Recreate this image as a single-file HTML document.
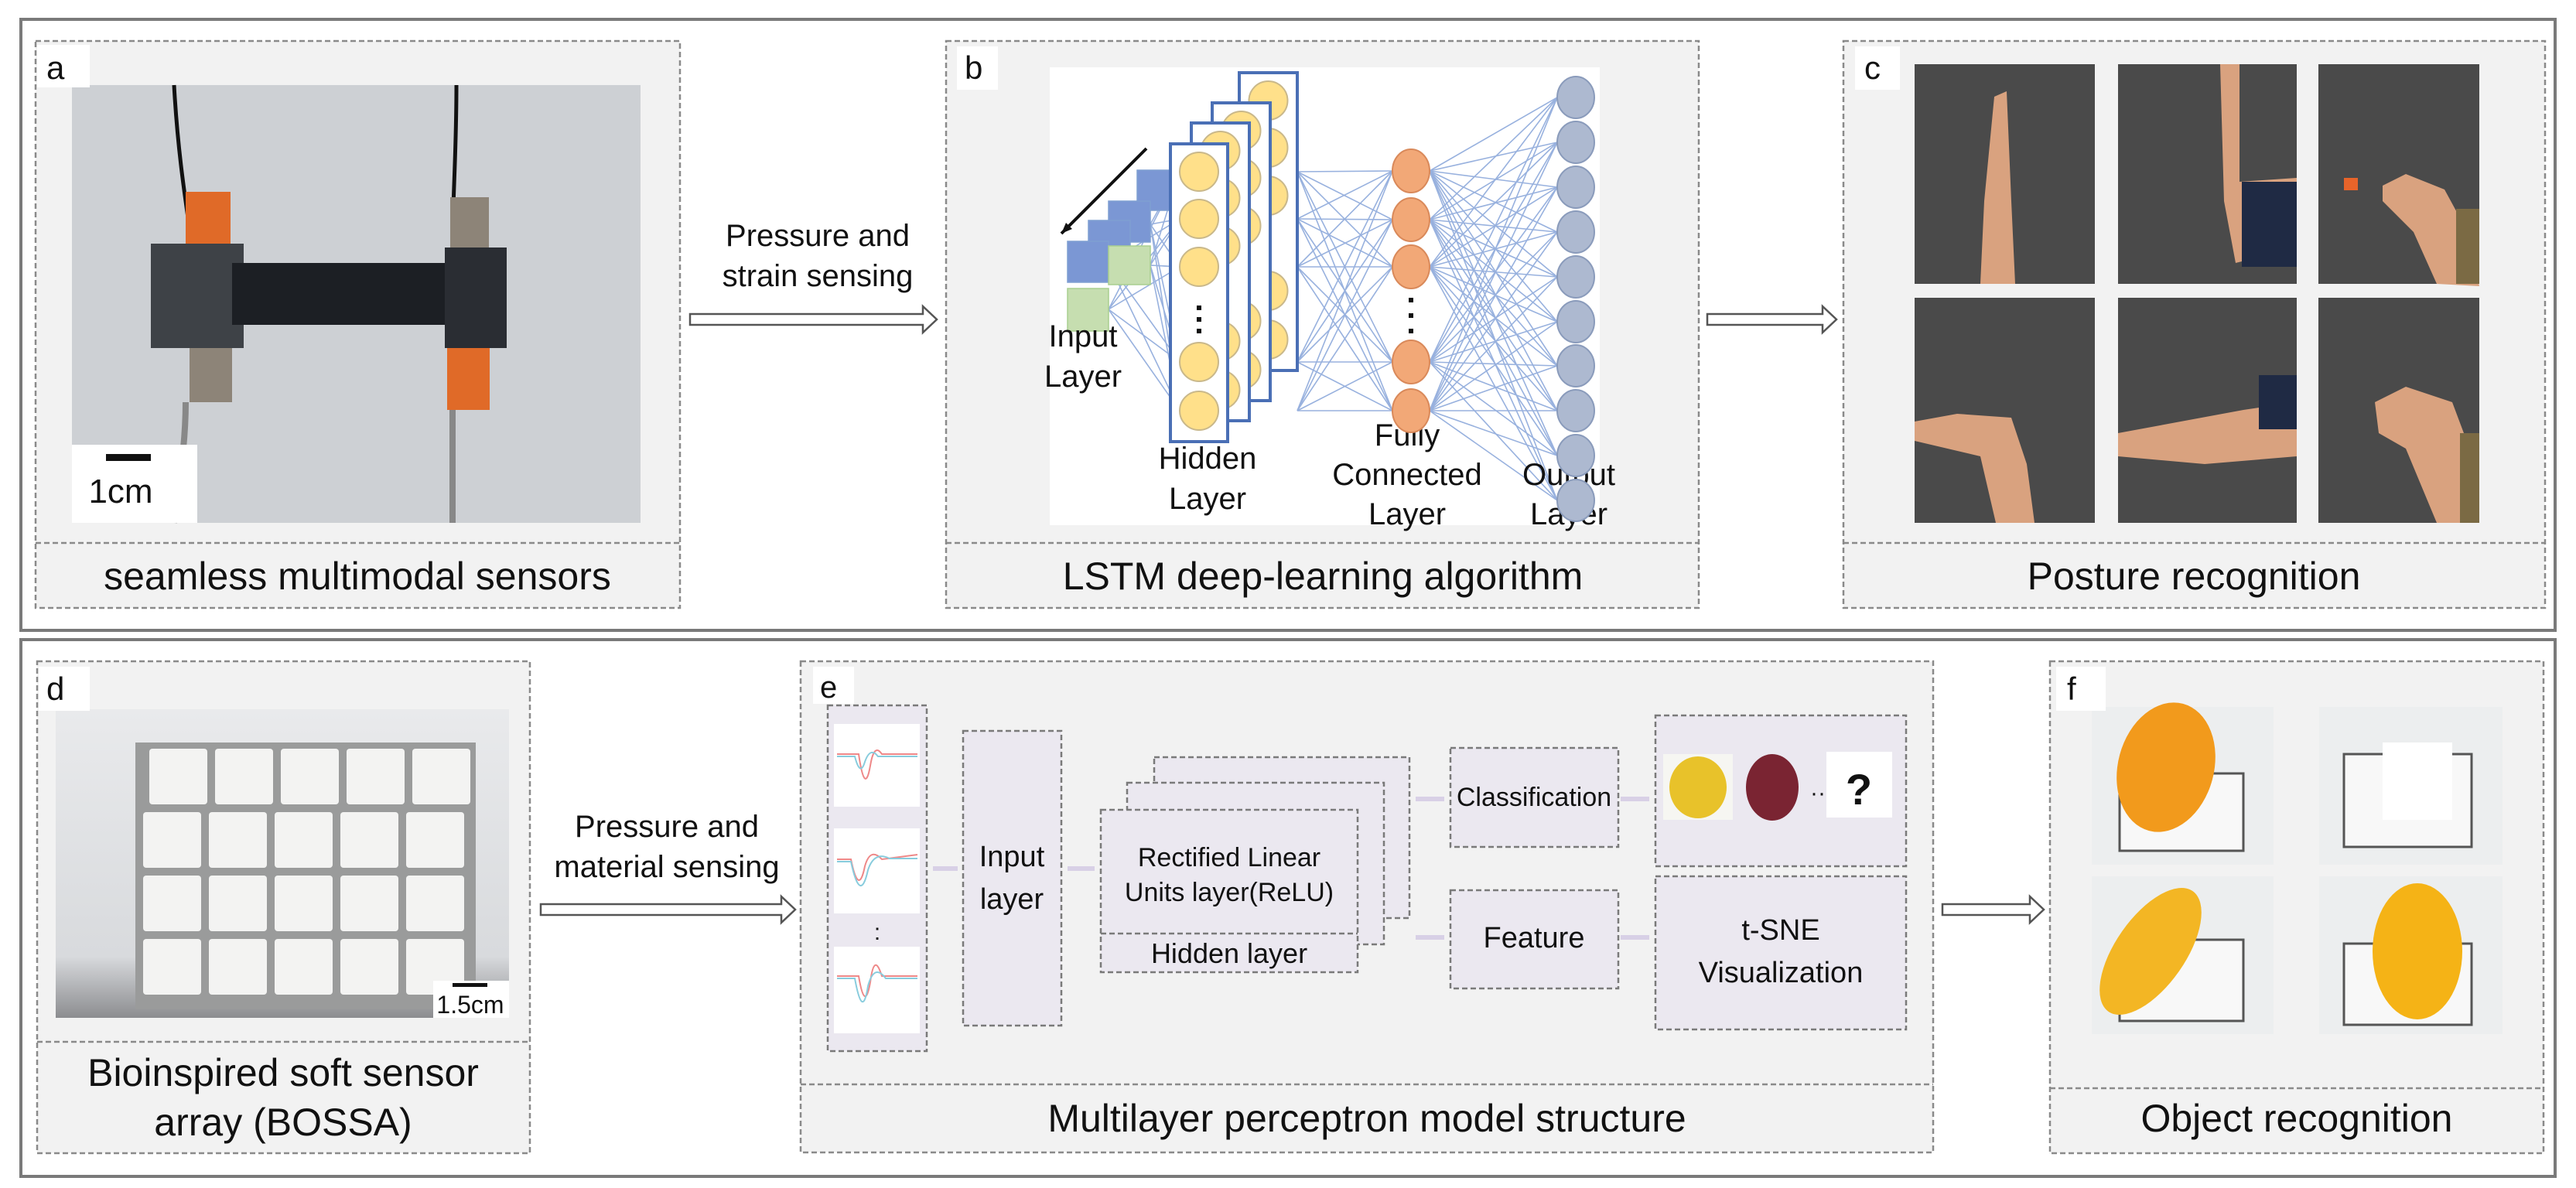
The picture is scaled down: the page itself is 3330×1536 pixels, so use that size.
<!DOCTYPE html>
<html><head><meta charset="utf-8"><style>
html,body{margin:0;padding:0;background:#fff}
svg{display:block}
text{font-family:"Liberation Sans",Arial,sans-serif;fill:#111}
</style></head><body>
<svg id="s" width="3330" height="1536" viewBox="0 0 3330 1536" xmlns="http://www.w3.org/2000/svg">
<rect width="3330" height="1536" fill="#fff"/>
<rect x="27" y="25" width="3276" height="790" fill="#fff" stroke="#7a7a7a" stroke-width="4"/>
<rect x="27" y="827" width="3276" height="694" fill="#fff" stroke="#7a7a7a" stroke-width="4"/>

<g fill="#f2f2f2" stroke="#8a8a8a" stroke-width="2.5" stroke-dasharray="7 4">
<rect x="46" y="53" width="833" height="733"/>
<rect x="1223" y="53" width="973" height="733"/>
<rect x="2383" y="53" width="907" height="733"/>
<rect x="48" y="855" width="637" height="636"/>
<rect x="1035" y="855" width="1464" height="635"/>
<rect x="2650" y="855" width="638" height="636"/>
</g>
<g stroke="#8a8a8a" stroke-width="2.5" stroke-dasharray="7 4">
<line x1="46" y1="702" x2="879" y2="702"/>
<line x1="1223" y1="702" x2="2196" y2="702"/>
<line x1="2383" y1="702" x2="3290" y2="702"/>
<line x1="48" y1="1347" x2="685" y2="1347"/>
<line x1="1035" y1="1402" x2="2499" y2="1402"/>
<line x1="2650" y1="1407" x2="3288" y2="1407"/>
</g>

<g font-size="50" text-anchor="middle">
<text x="462" y="762">seamless multimodal sensors</text>
<text x="1710" y="762">LSTM deep-learning algorithm</text>
<text x="2836" y="762">Posture recognition</text>
<text x="366" y="1404">Bioinspired soft sensor</text>
<text x="366" y="1468">array (BOSSA)</text>
<text x="1767" y="1463">Multilayer perceptron model structure</text>
<text x="2969" y="1463">Object recognition</text>
</g>

<g fill="#fff" stroke="#555" stroke-width="2.5">
<polygon points="892,406 1193,406 1193,396 1211,413 1193,430 1193,420 892,420"/>
<polygon points="2207,406 2356,406 2356,396 2374,413 2356,430 2356,420 2207,420"/>
<polygon points="699,1169 1010,1169 1010,1159 1028,1176 1010,1193 1010,1183 699,1183"/>
<polygon points="2511,1169 2624,1169 2624,1159 2642,1176 2624,1193 2624,1183 2511,1183"/>
</g>
<g font-size="40" text-anchor="middle">
<text x="1057" y="318">Pressure and</text>
<text x="1057" y="370">strain sensing</text>
<text x="862" y="1082">Pressure and</text>
<text x="862" y="1134">material sensing</text>
</g>

<!-- panel a photo -->
<rect x="93" y="110" width="735" height="566" fill="#cdd0d4"/>
<path d="M225 110 C230 200 240 260 250 330" stroke="#111" stroke-width="5" fill="none"/>
<path d="M590 110 C590 200 585 260 585 320" stroke="#111" stroke-width="5" fill="none"/>
<path d="M240 520 C240 580 230 630 225 676" stroke="#888" stroke-width="8" fill="none"/>
<path d="M585 520 C585 580 585 630 585 676" stroke="#888" stroke-width="8" fill="none"/>
<rect x="240" y="248" width="58" height="75" fill="#e06a28"/>
<rect x="245" y="440" width="55" height="80" fill="#8d8478"/>
<rect x="582" y="255" width="50" height="65" fill="#8d8478"/>
<rect x="578" y="440" width="55" height="90" fill="#e06a28"/>
<rect x="195" y="315" width="120" height="135" fill="#3e4247"/>
<rect x="300" y="340" width="300" height="80" fill="#1c1f24"/>
<rect x="575" y="320" width="80" height="130" fill="#2a2d33"/>
<rect x="93" y="575" width="162" height="101" fill="#fff"/>
<rect x="137" y="587" width="58" height="9" fill="#111"/>
<text x="156" y="650" font-size="44" text-anchor="middle">1cm</text>
<rect x="48" y="58" width="68" height="55" fill="#fff"/>
<text x="60" y="102" font-size="42">a</text>

<!-- panel b network -->
<rect x="1357" y="87" width="711" height="592" fill="#fff"/>
<g id="net" stroke="#4472c4" stroke-width="1.6" opacity="0.55"></g>
<line x1="1482" y1="192" x2="1372" y2="302" stroke="#111" stroke-width="4"/>
<polygon points="1372,302 1378,288 1386,296" fill="#111"/>
<g stroke="#7f9fd2" stroke-width="1.5">
<rect x="1470" y="220" width="43" height="52" fill="#7b97d4"/>
<rect x="1433" y="260" width="54" height="53" fill="#7b97d4"/>
<rect x="1407" y="285" width="54" height="53" fill="#7b97d4"/>
<rect x="1380" y="312" width="53" height="53" fill="#7b97d4"/>
<rect x="1380" y="373" width="53" height="55" fill="#c6deb0" stroke="#a9cf8f"/>
<rect x="1433" y="318" width="54" height="50" fill="#c6deb0" stroke="#a9cf8f"/>
</g>
<g id="cols"></g>
<g font-size="40" text-anchor="middle">
<text x="1400" y="448">Input</text>
<text x="1400" y="500">Layer</text>
<text x="1561" y="606">Hidden</text>
<text x="1561" y="658">Layer</text>
<text x="1819" y="576">Fully</text>
<text x="1819" y="627">Connected</text>
<text x="1819" y="678">Layer</text>
<text x="2028" y="627">Output</text>
<text x="2028" y="678">Layer</text>
</g>
<rect x="1237" y="60" width="53" height="56" fill="#fff"/>
<text x="1247" y="102" font-size="42">b</text>

<!-- panel c photos -->
<g fill="#4a4a4a">
<rect x="2475" y="83" width="233" height="284"/>
<rect x="2738" y="83" width="231" height="284"/>
<rect x="2997" y="83" width="208" height="284"/>
<rect x="2475" y="385" width="233" height="291"/>
<rect x="2738" y="385" width="231" height="291"/>
<rect x="2997" y="385" width="208" height="291"/>
</g>
<g fill="#d9a27f">
<path d="M2578 125 L2594 118 L2600 260 L2605 367 L2560 367 L2565 260 Z"/>
<path d="M2870 83 L2895 83 L2895 235 L2969 230 L2969 320 L2890 340 L2875 260 Z"/>
<path d="M3080 240 L3110 225 L3160 245 L3190 300 L3205 370 L3150 367 L3120 300 L3080 260 Z"/>
<path d="M2475 545 L2530 535 L2600 540 L2620 600 L2630 676 L2580 676 L2560 590 L2475 570 Z"/>
<path d="M2738 560 L2900 530 L2969 520 L2969 590 L2850 600 L2738 590 Z"/>
<path d="M3070 520 L3110 500 L3170 520 L3200 600 L3205 676 L3150 676 L3110 580 L3075 560 Z"/>
</g>
<rect x="2898" y="235" width="71" height="110" fill="#1f2a44"/>
<rect x="2920" y="485" width="49" height="70" fill="#1f2a44"/>
<rect x="3175" y="270" width="30" height="97" fill="#7b6a44"/>
<rect x="3180" y="560" width="25" height="116" fill="#7b6a44"/>
<rect x="3030" y="230" width="18" height="16" fill="#e8642a"/>
<rect x="2398" y="60" width="58" height="56" fill="#fff"/>
<text x="2410" y="102" font-size="42">c</text>

<!-- panel d photo -->
<defs><linearGradient id="dg" x1="0" y1="0" x2="0" y2="1"><stop offset="0" stop-color="#e9eaec"/><stop offset="0.8" stop-color="#d8dadd"/><stop offset="1" stop-color="#8c8d90"/></linearGradient></defs>
<rect x="72" y="917" width="586" height="399" fill="url(#dg)"/>
<rect x="175" y="960" width="440" height="345" fill="#9a9b9b"/>
<g id="tiles"></g>
<rect x="560" y="1268" width="98" height="48" fill="#fff"/>
<rect x="585" y="1271" width="45" height="5" fill="#111"/>
<text x="608" y="1310" font-size="32" text-anchor="middle">1.5cm</text>
<rect x="50" y="862" width="66" height="57" fill="#fff"/>
<text x="60" y="905" font-size="42">d</text>

<!-- panel e -->
<rect x="1051" y="862" width="53" height="48" fill="#fff"/>
<text x="1060" y="902" font-size="40">e</text>
<g fill="#ebe8f0" stroke="#7a7a7a" stroke-width="2.5" stroke-dasharray="7 4">
<rect x="1070" y="912" width="128" height="447"/>
<rect x="1245" y="945" width="127" height="381"/>
<rect x="1492" y="979" width="330" height="208"/>
<rect x="1457" y="1012" width="332" height="209"/>
<rect x="1423" y="1047" width="332" height="210"/>
<rect x="1875" y="967" width="217" height="128"/>
<rect x="1875" y="1151" width="217" height="127"/>
<rect x="2140" y="925" width="324" height="195"/>
<rect x="2140" y="1133" width="324" height="198"/>
</g>
<line x1="1423" y1="1207" x2="1755" y2="1207" stroke="#7a7a7a" stroke-width="2.5" stroke-dasharray="7 4"/>
<g fill="#fff">
<rect x="1078" y="936" width="111" height="107"/>
<rect x="1078" y="1071" width="111" height="110"/>
<rect x="1078" y="1224" width="111" height="112"/>
</g>
<g fill="none" stroke-width="2">
<path d="M1082 975 L1110 975 Q1118 1030 1125 990 Q1130 960 1140 975 L1186 975" stroke="#e88"/>
<path d="M1082 978 L1105 978 Q1112 1005 1118 985 Q1125 965 1135 978 L1186 978" stroke="#8cd"/>
<path d="M1082 1111 L1100 1111 Q1110 1160 1118 1120 Q1125 1095 1140 1111 L1186 1105" stroke="#e88"/>
<path d="M1082 1114 L1100 1114 Q1112 1170 1122 1125 Q1130 1100 1150 1110 L1186 1110" stroke="#8cd"/>
<path d="M1082 1262 L1110 1262 Q1118 1310 1125 1270 Q1130 1230 1140 1262 L1186 1262" stroke="#e88"/>
<path d="M1082 1265 L1105 1265 Q1115 1320 1122 1275 Q1130 1245 1145 1265 L1186 1265" stroke="#8cd"/>
</g>
<text x="1134" y="1215" font-size="30" text-anchor="middle">:</text>
<g stroke="#d8d0e6" stroke-width="6">
<line x1="1206" y1="1123" x2="1238" y2="1123"/>
<line x1="1380" y1="1123" x2="1415" y2="1123"/>
<line x1="1830" y1="1033" x2="1867" y2="1033"/>
<line x1="1830" y1="1212" x2="1867" y2="1212"/>
<line x1="2095" y1="1033" x2="2132" y2="1033"/>
<line x1="2095" y1="1212" x2="2132" y2="1212"/>
</g>
<g font-size="38" text-anchor="middle">
<text x="1308" y="1120">Input</text>
<text x="1308" y="1175">layer</text>
<text x="1589" y="1120" font-size="34">Rectified Linear</text>
<text x="1589" y="1165" font-size="34">Units layer(ReLU)</text>
<text x="1589" y="1245" font-size="36">Hidden layer</text>
<text x="1983" y="1042" font-size="34">Classification</text>
<text x="1983" y="1225">Feature</text>
<text x="2302" y="1215">t-SNE</text>
<text x="2302" y="1270">Visualization</text>
</g>
<rect x="2150" y="975" width="90" height="85" fill="#f6f6f2"/>
<ellipse cx="2195" cy="1018" rx="37" ry="40" fill="#e8c22a"/>
<ellipse cx="2291" cy="1018" rx="34" ry="43" fill="#7a2432"/>
<text x="2340" y="1035" font-size="30">··</text>
<rect x="2361" y="972" width="85" height="85" fill="#fff"/>
<text x="2403" y="1040" font-size="56" font-weight="bold" text-anchor="middle">?</text>

<!-- panel f -->
<g fill="#eceeef">
<rect x="2704" y="914" width="235" height="204"/>
<rect x="2998" y="914" width="237" height="204"/>
<rect x="2704" y="1133" width="235" height="204"/>
<rect x="2998" y="1133" width="237" height="204"/>
</g>
<g fill="#f8f8f8" stroke="#555" stroke-width="3">
<rect x="2740" y="1000" width="160" height="100"/>
<rect x="3030" y="975" width="165" height="120"/>
<rect x="2740" y="1215" width="160" height="105"/>
<rect x="3030" y="1220" width="165" height="105"/>
</g>
<ellipse cx="2800" cy="992" rx="62" ry="85" fill="#f29a1c" transform="rotate(15 2800 992)"/>
<rect x="3080" y="960" width="90" height="100" fill="#fff"/>
<ellipse cx="2780" cy="1230" rx="45" ry="95" fill="#f3b624" transform="rotate(35 2780 1230)"/>
<ellipse cx="3125" cy="1230" rx="58" ry="88" fill="#f5b316"/>
<rect x="2658" y="862" width="64" height="57" fill="#fff"/>
<text x="2672" y="905" font-size="42">f</text>
</svg>
<script>
(function(){
var NS="http://www.w3.org/2000/svg",s=document.getElementById("s");
function el(t,a,p){var e=document.createElementNS(NS,t);for(var k in a)e.setAttribute(k,a[k]);(p||s).appendChild(e);return e;}
var net=document.getElementById("net"),cols=document.getElementById("cols");
var inp=[[1433,340],[1433,400],[1487,290],[1487,343],[1513,250]];
var hid=[222,283,345,468,531];
var fc=[221,284,345,468,531];
var out=[126,184,242,300,358,416,473,531,589,647];
inp.forEach(function(p){hid.forEach(function(h){el("line",{x1:p[0],y1:p[1],x2:1525,y2:h},net);});});
hid.forEach(function(h){fc.forEach(function(f){el("line",{x1:1677,y1:h,x2:1800,y2:f},net);});});
fc.forEach(function(f){out.forEach(function(o){el("line",{x1:1848,y1:f,x2:2013,y2:o},net);});});
var stacks=[[1602,94,1677],[1567,133,1642],[1540,159,1615],[1513,186,1587]];
stacks.forEach(function(c){
 el("rect",{x:c[0],y:c[1],width:c[2]-c[0],height:385,fill:"#fff",stroke:"#4a6fb5","stroke-width":4},cols);
 var cx=(c[0]+c[2])/2,off=c[1]-186;
 [222,283,345,468,531].forEach(function(y){el("circle",{cx:cx,cy:y+off,r:25,fill:"#ffe08a",stroke:"#c9b88a","stroke-width":2},cols);});
 [395,410,425].forEach(function(y){el("rect",{x:cx-3,y:y+off,width:6,height:6,fill:"#111"},cols);});
});
fc.forEach(function(y){el("ellipse",{cx:1824,cy:y,rx:24,ry:28,fill:"#f2a877",stroke:"#d9895a","stroke-width":2});});
[385,405,425].forEach(function(y){el("rect",{x:1821,y:y,width:6,height:6,fill:"#111"});});
out.forEach(function(y){el("ellipse",{cx:2037,cy:y,rx:24,ry:27,fill:"#adb9d0",stroke:"#8a9bbb","stroke-width":2});});
var tiles=document.getElementById("tiles");
for(var r=0;r<4;r++)for(var c=0;c<5;c++){
 el("rect",{x:185+c*85+(r==0?8:0),y:968+r*82,width:75,height:72,fill:"#f3f3f2",rx:4},tiles);
}
})();
</script>
</body></html>
